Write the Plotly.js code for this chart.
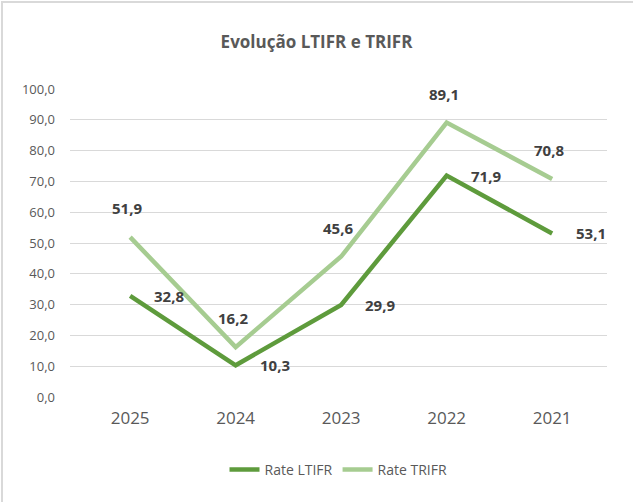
<!DOCTYPE html>
<html>
<head>
<meta charset="utf-8">
<script src="https://cdn.plot.ly/plotly-3.0.1.min.js"></script>
<style>
  html, body { margin: 0; padding: 0; background: #fff; }
  #wrap { position: relative; width: 633px; height: 502px; }
  #chart { position: absolute; left: 0; top: 0; width: 633px; height: 502px; }
  #frame { position: absolute; left: 1px; top: 1px; width: 640px; height: 520px;
           border-left: 2px solid #d9d9d9; border-top: 2px solid #d9d9d9; pointer-events: none; }
</style>
</head>
<body>
<div id="wrap"><div id="chart"></div><div id="frame"></div></div>
<script>
const years = ['2025', '2024', '2023', '2022', '2021'];
const ltifr = [32.8, 10.3, 29.9, 71.9, 53.1];
const trifr = [51.9, 16.2, 45.6, 89.1, 70.8];
const yTicks = [0, 10, 20, 30, 40, 50, 60, 70, 80, 90, 100];

const darkGreen = '#5e9b3c';
const lightGreen = '#a6cc91';
const fmt = v => v.toFixed(1).replace('.', ',');

const traces = [
  { x: years, y: ltifr, type: 'scatter', mode: 'lines', name: 'Rate LTIFR',
    line: { color: darkGreen, width: 4.5 }, hoverinfo: 'skip' },
  { x: years, y: trifr, type: 'scatter', mode: 'lines', name: 'Rate TRIFR',
    line: { color: lightGreen, width: 4.5 }, hoverinfo: 'skip' }
];

const annotations = [];
for (let i = 0; i < years.length; i++) {
  annotations.push({ x: i, y: ltifr[i], xref: 'x', yref: 'y', text: '<b>' + fmt(ltifr[i]) + '</b>',
    showarrow: false, xshift: 39, yshift: 0,
    font: { family: 'Open Sans', size: 15, color: '#404040' } });
  annotations.push({ x: i, y: trifr[i], xref: 'x', yref: 'y', text: '<b>' + fmt(trifr[i]) + '</b>',
    showarrow: false, xshift: -3, yshift: 29,
    font: { family: 'Open Sans', size: 15, color: '#404040' } });
}

const layout = {
  width: 633, height: 502,
  paper_bgcolor: '#ffffff', plot_bgcolor: '#ffffff',
  margin: { l: 70, r: 26, t: 89, b: 105 },
  title: { text: '<b>Evolução LTIFR e TRIFR</b>', x: 0.5, xanchor: 'center', y: 1 - 42 / 502, yanchor: 'middle',
    font: { family: 'Open Sans', size: 17, color: '#595959' } },
  xaxis: { type: 'category', range: [-0.57, 4.52], showgrid: false, zeroline: false, showline: false,
    ticks: '', ticklabelstandoff: 9,
    tickfont: { family: 'Open Sans', size: 17, color: '#595959' }, fixedrange: true },
  yaxis: { range: [0, 100], tickvals: yTicks, ticktext: yTicks.map(fmt), showgrid: true, gridcolor: '#d9d9d9',
    gridwidth: 1, zeroline: false, showline: false, ticks: '', ticklabelstandoff: 14,
    tickfont: { family: 'Open Sans', size: 13, color: '#595959' }, fixedrange: true },
  showlegend: true,
  legend: { orientation: 'h', x: 0.5, xanchor: 'center', y: (397 - 470) / 308, yanchor: 'middle',
    font: { family: 'Open Sans', size: 14, color: '#595959' } },
  annotations: annotations
};

Plotly.newPlot('chart', traces, layout, { staticPlot: true, displayModeBar: false });
</script>
</body>
</html>
